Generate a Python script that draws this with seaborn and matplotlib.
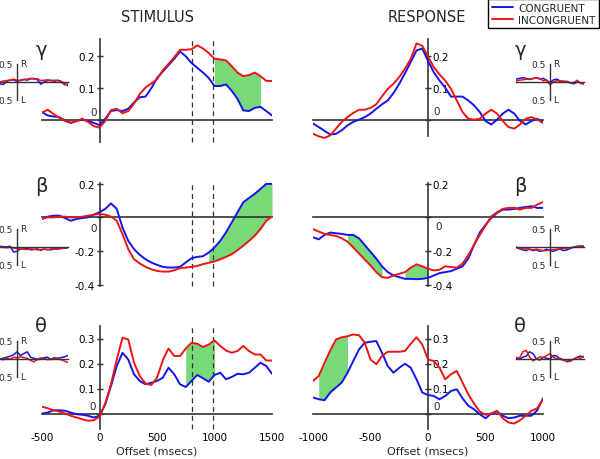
"""
Stimulus- and response-locked band power (gamma, beta, theta),
congruent vs incongruent trials, with small lateralisation insets.
"""

import numpy as np
import matplotlib
matplotlib.use("Agg")
import matplotlib.pyplot as plt
import seaborn as sns
from matplotlib.lines import Line2D

sns.set_theme(style="white")
plt.rcParams["font.family"] = ["DejaVu Sans"]
plt.rcParams["axes.unicode_minus"] = False

BLUE = "#1414ee"
RED = "#ee1414"
GREEN = "#78d978"
AXC = "#333333"
W, H = 600, 460

# ============================================================
# DATA
# ============================================================
t_stim = np.arange(-500, 1501, 50)
t_resp = np.arange(-1000, 1001, 50)
t_stim_in = np.arange(-500, 1501, 100)
t_resp_in = np.arange(-1000, 1001, 100)

stim_xticks = [-500, 0, 500, 1000, 1500]
resp_xticks = [-1000, -500, 0, 500, 1000]
stim_dashed = [800, 985]

# gamma
gamma_stim_blue = [0.024, 0.013, 0.01, 0.008, -0.002, -0.01, -0.004, 0.0, -0.004, -0.01, -0.017,
                   0.003, 0.027, 0.03, 0.027, 0.034, 0.054, 0.07, 0.072, 0.098, 0.13,
                   0.15, 0.17, 0.19, 0.213, 0.198, 0.177, 0.162, 0.147, 0.13, 0.105,
                   0.105, 0.11, 0.09, 0.065, 0.029, 0.027, 0.037, 0.04, 0.027, 0.013]
gamma_stim_red = [0.022, 0.031, 0.018, 0.006, -0.004, -0.01, -0.004, 0.003, -0.007, -0.02, -0.025,
                  -0.004, 0.03, 0.034, 0.02, 0.027, 0.05, 0.08, 0.1, 0.113, 0.126,
                  0.154, 0.174, 0.195, 0.218, 0.218, 0.22, 0.232, 0.222, 0.208, 0.19,
                  0.188, 0.185, 0.167, 0.147, 0.136, 0.139, 0.147, 0.136, 0.121, 0.121]
gamma_resp_blue = [-0.012, -0.023, -0.035, -0.046, -0.044, -0.033, -0.018, -0.007, 0.0, 0.008,
                   0.019, 0.034, 0.048, 0.06, 0.083, 0.112, 0.145, 0.18, 0.216, 0.222,
                   0.184, 0.148, 0.122, 0.1, 0.072, 0.072, 0.072, 0.06, 0.045, 0.024,
                   -0.004, -0.015, 0.0, 0.019, 0.031, 0.019, -0.004, -0.015, -0.004, 0.003, -0.007]
gamma_resp_red = [-0.044, -0.052, -0.057, -0.049, -0.028, -0.007, 0.008, 0.021, 0.031, 0.031,
                  0.037, 0.048, 0.073, 0.096, 0.112, 0.133, 0.159, 0.19, 0.238, 0.231,
                  0.197, 0.164, 0.141, 0.122, 0.096, 0.06, 0.024, 0.003, 0.0, 0.003,
                  0.019, 0.031, 0.019, -0.004, -0.023, -0.028, -0.015, 0.003, 0.008, 0.0, -0.01]

# beta
beta_stim_blue = [-0.01, 0.004, 0.01, 0.01, -0.004, -0.02, -0.01, -0.004, 0.0, 0.016, 0.03,
                  0.05, 0.083, 0.05, -0.06, -0.139, -0.188, -0.222, -0.248, -0.267, -0.281,
                  -0.293, -0.297, -0.297, -0.293, -0.267, -0.242, -0.234, -0.23, -0.208, -0.178,
                  -0.139, -0.089, -0.03, 0.03, 0.089, 0.115, 0.139, 0.168, 0.198, 0.198]
beta_stim_red = [-0.004, 0.0, 0.0, 0.004, 0.004, 0.0, 0.0, 0.004, 0.01, 0.016, 0.02,
                 0.016, 0.004, -0.02, -0.099, -0.188, -0.248, -0.273, -0.293, -0.307, -0.317,
                 -0.321, -0.321, -0.313, -0.301, -0.297, -0.293, -0.287, -0.277, -0.269, -0.261,
                 -0.248, -0.234, -0.218, -0.194, -0.168, -0.139, -0.109, -0.069, -0.02, 0.004]
beta_resp_blue = [-0.118, -0.13, -0.104, -0.09, -0.094, -0.098, -0.104, -0.104, -0.124, -0.164,
                  -0.204, -0.244, -0.29, -0.324, -0.344, -0.354, -0.364, -0.364, -0.366, -0.364,
                  -0.358, -0.344, -0.33, -0.324, -0.318, -0.304, -0.29, -0.244, -0.164, -0.09,
                  -0.044, -0.004, 0.026, 0.046, 0.046, 0.05, 0.056, 0.062, 0.066, 0.056, 0.056]
beta_resp_red = [-0.07, -0.084, -0.098, -0.104, -0.11, -0.124, -0.144, -0.178, -0.214, -0.25,
                 -0.284, -0.324, -0.354, -0.358, -0.344, -0.334, -0.324, -0.298, -0.278, -0.29,
                 -0.304, -0.314, -0.31, -0.29, -0.294, -0.298, -0.274, -0.224, -0.164, -0.104,
                 -0.05, 0.006, 0.03, 0.05, 0.056, 0.056, 0.046, 0.056, 0.056, 0.076, 0.09]

# theta
theta_stim_blue = [0.0, 0.004, 0.013, 0.013, 0.011, 0.004, -0.003, -0.005, -0.009, -0.016, -0.009,
                   0.037, 0.11, 0.19, 0.243, 0.216, 0.157, 0.13, 0.117, 0.123, 0.13,
                   0.143, 0.183, 0.157, 0.117, 0.106, 0.13, 0.154, 0.141, 0.127, 0.154,
                   0.163, 0.137, 0.146, 0.159, 0.157, 0.163, 0.183, 0.203, 0.19, 0.159]
theta_stim_red = [0.027, 0.021, 0.013, 0.008, 0.0, -0.009, -0.016, -0.023, -0.029, -0.027, -0.013,
                  0.04, 0.117, 0.216, 0.303, 0.296, 0.203, 0.15, 0.12, 0.114, 0.143,
                  0.212, 0.26, 0.23, 0.23, 0.26, 0.283, 0.279, 0.266, 0.276, 0.292,
                  0.27, 0.252, 0.243, 0.25, 0.27, 0.25, 0.236, 0.236, 0.212, 0.212]
theta_resp_blue = [0.064, 0.057, 0.053, 0.084, 0.104, 0.124, 0.163, 0.21, 0.256, 0.283,
                   0.287, 0.29, 0.243, 0.19, 0.163, 0.183, 0.199, 0.183, 0.137, 0.084,
                   0.074, 0.07, 0.057, 0.07, 0.09, 0.097, 0.061, 0.031, 0.017, -0.003,
                   -0.019, 0.0, 0.008, -0.009, -0.019, -0.016, -0.009, -0.009, -0.009, 0.013, 0.061]
theta_resp_red = [0.13, 0.15, 0.203, 0.252, 0.296, 0.305, 0.309, 0.316, 0.313, 0.283,
                  0.216, 0.197, 0.23, 0.247, 0.247, 0.247, 0.25, 0.279, 0.305, 0.276,
                  0.216, 0.21, 0.183, 0.137, 0.157, 0.17, 0.124, 0.077, 0.04, 0.008,
                  -0.005, 0.0, 0.011, -0.019, -0.036, -0.04, -0.027, -0.009, 0.011, 0.021, 0.057]

# lateralisation insets (R > 0, L < 0)
gamma_stim_in_blue = [-0.05, -0.07, 0.02, 0.05, 0.06, 0.02, 0.05, 0.07, 0.05, 0.09, 0.1,
                      0.06, -0.06, 0.0, 0.04, 0.05, 0.02, 0.05, 0.02, -0.05, -0.1]
gamma_stim_in_red = [0.0, 0.03, 0.04, 0.06, 0.08, 0.05, 0.04, 0.07, 0.08, 0.1, 0.08,
                     0.09, 0.04, 0.05, 0.06, 0.03, 0.05, 0.04, 0.0, -0.08, -0.05]
gamma_resp_in_blue = [0.08, 0.1, 0.12, 0.1, 0.08, 0.1, 0.12, 0.08, 0.1, 0.05, -0.02,
                      0.06, 0.08, 0.03, 0.0, 0.02, -0.03, -0.05, 0.0, -0.02, -0.04]
gamma_resp_in_red = [0.03, 0.05, 0.06, 0.08, 0.07, 0.09, 0.12, 0.1, 0.03, 0.05, -0.08,
                     0.0, 0.04, 0.02, 0.03, 0.0, -0.02, -0.02, 0.05, -0.04, -0.06]
beta_stim_in_blue = [0.02, 0.01, 0.0, 0.02, -0.14, -0.12, -0.05, -0.06, -0.04, -0.08, -0.07,
                     -0.05, -0.09, -0.06, -0.07, -0.08, -0.05, -0.06, -0.04, -0.03, -0.02]
beta_stim_in_red = [0.0, -0.01, -0.02, -0.01, -0.03, -0.04, -0.05, -0.06, -0.07, -0.05, -0.06,
                    -0.08, -0.07, -0.06, -0.08, -0.05, -0.06, -0.05, -0.04, -0.03, -0.02]
beta_resp_in_blue = [0.0, -0.05, -0.08, -0.1, -0.06, -0.1, -0.08, -0.12, -0.1, -0.06, -0.1,
                     -0.12, -0.08, -0.06, -0.1, -0.08, -0.04, 0.0, 0.02, 0.03, 0.02]
beta_resp_in_red = [-0.02, -0.03, -0.05, -0.05, -0.06, -0.08, -0.06, -0.08, -0.1, -0.1, -0.08,
                    -0.07, -0.06, -0.05, -0.04, -0.03, -0.02, -0.01, 0.0, 0.01, 0.03]
theta_stim_in_blue = [0.0, 0.02, 0.05, 0.08, 0.12, 0.2, 0.1, 0.15, 0.2, 0.05, 0.02,
                      -0.02, 0.0, 0.04, 0.05, -0.02, 0.03, 0.02, 0.04, 0.06, 0.1]
theta_stim_in_red = [0.0, -0.02, 0.02, 0.0, 0.05, 0.03, 0.06, 0.04, 0.02, -0.04, -0.08,
                     0.0, 0.03, 0.02, -0.02, 0.0, 0.04, 0.0, -0.02, -0.06, -0.1]
theta_resp_in_blue = [0.02, 0.0, 0.05, 0.08, 0.2, 0.15, 0.0, -0.03, 0.05, 0.02, 0.0,
                      0.1, 0.08, 0.0, -0.04, -0.02, -0.06, 0.0, 0.05, 0.08, 0.05]
theta_resp_in_red = [0.05, 0.02, 0.2, 0.24, 0.05, -0.05, 0.0, 0.06, 0.04, 0.1, 0.15,
                     0.05, 0.0, 0.02, -0.03, -0.08, -0.06, 0.0, 0.04, 0.02, 0.08]

# significant windows (ms)
gamma_stim_sig = [(1000, 1400)]
beta_stim_sig = [(950, 1500)]
beta_resp_sig = [(-700, -400), (-200, 0)]
theta_stim_sig = [(750, 1000)]
theta_resp_sig = [(-950, -700)]

# ============================================================
# FIGURE
# ============================================================
fig = plt.figure(figsize=(6, 4.6), dpi=100)


def px_axes(left, top, width, height):
    ax = fig.add_axes([left / W, 1 - (top + height) / H, width / W, height / H])
    ax.patch.set_visible(False)
    return ax


def draw_main(ax, t, blue, red, xticks, ylim, yticks, ybounds, sig, side,
              bottom_row, zero_off, dashed=None):
    t = np.asarray(t)
    for a, b in sig:
        ax.fill_between(t, blue, red, where=(t >= a) & (t <= b), color=GREEN,
                        lw=0, zorder=1)
    sns.lineplot(x=t, y=blue, color=BLUE, lw=1.4, ax=ax, zorder=3)
    sns.lineplot(x=t, y=red, color=RED, lw=1.4, ax=ax, zorder=3)
    if dashed:
        ax.vlines(dashed, ybounds[0], ybounds[1], colors=AXC, lw=0.9,
                  linestyles=(0, (4, 3)), zorder=2)
    ax.set_xlim(t[0], t[-1])
    ax.set_ylim(*ylim)
    ax.set_xlabel("")
    ax.set_ylabel("")

    other = "left" if side == "right" else "right"
    ax.spines["top"].set_visible(False)
    ax.spines[other].set_visible(False)
    ax.spines[side].set_position(("data", 0))
    ax.spines[side].set_bounds(*ybounds)
    ax.spines["bottom"].set_position(("data", 0))
    for s in [side, "bottom"]:
        ax.spines[s].set_color(AXC)
        ax.spines[s].set_linewidth(1.2)
    if side == "right":
        ax.yaxis.tick_right()
    else:
        ax.yaxis.tick_left()

    ax.set_xticks(xticks)
    ax.set_yticks(yticks)
    ax.set_yticklabels(["" if v == 0 else f"{v:g}" for v in yticks])
    ax.tick_params(axis="both", which="both", direction="inout", length=5, width=1,
                   color=AXC, labelsize=7.5, labelcolor="black")
    ax.tick_params(axis="y", pad=1)
    if bottom_row:
        ax.set_xticklabels([f"{v:g}" for v in xticks])
        ax.tick_params(axis="x", pad=11)
        ax.set_xlabel("Offset (msecs)", fontsize=8, labelpad=2)
    else:
        ax.tick_params(axis="x", labelbottom=False)

    dx, dy = zero_off
    ax.annotate("0", xy=(0, 0), xytext=(dx, dy), textcoords="offset pixels",
                ha="right" if side == "left" else "left",
                va="bottom" if dy > 0 else "top", fontsize=7.5)


def draw_inset(ax, t, blue, red):
    sns.lineplot(x=t, y=blue, color=BLUE, lw=1.1, ax=ax)
    sns.lineplot(x=t, y=red, color=RED, lw=1.1, ax=ax)
    ax.set_xlim(t[0], t[-1])
    ax.set_ylim(-0.6, 0.6)
    ax.set_xlabel("")
    ax.set_ylabel("")
    ax.spines["top"].set_visible(False)
    ax.spines["right"].set_visible(False)
    ax.spines["left"].set_position(("data", 0))
    ax.spines["bottom"].set_position(("data", 0))
    ax.spines["left"].set_bounds(-0.5, 0.5)
    for s in ["left", "bottom"]:
        ax.spines[s].set_color(AXC)
        ax.spines[s].set_linewidth(1.0)
    ax.set_xticks([])
    ax.set_yticks([-0.5, 0.5])
    ax.set_yticklabels(["0.5", "0.5"])
    ax.tick_params(axis="y", direction="inout", length=4, width=0.8, color=AXC,
                   labelsize=6.5, pad=1)
    ax.annotate("R", xy=(0, 0.5), xytext=(3, 0), textcoords="offset pixels",
                ha="left", va="center", fontsize=6.5)
    ax.annotate("L", xy=(0, -0.5), xytext=(3, 0), textcoords="offset pixels",
                ha="left", va="center", fontsize=6.5)


rows = [
    dict(top=38, h=108, ylim=(-0.079, 0.258), yticks=[0, 0.1, 0.2],
         sb=(-0.07, 0.252), rb=(-0.05, 0.252), greek="γ", gy=50, inset_zero=83,
         stim=(gamma_stim_blue, gamma_stim_red, gamma_stim_sig),
         resp=(gamma_resp_blue, gamma_resp_red, []),
         sin=(gamma_stim_in_blue, gamma_stim_in_red),
         rin=(gamma_resp_in_blue, gamma_resp_in_red),
         z_stim=(-3, 3), z_resp=(5, 4)),
    dict(top=180, h=110, ylim=(-0.424, 0.227), yticks=[-0.4, -0.2, 0, 0.2],
         sb=(-0.405, 0.205), rb=(-0.405, 0.205), greek="β", gy=187, inset_zero=248,
         stim=(beta_stim_blue, beta_stim_red, beta_stim_sig),
         resp=(beta_resp_blue, beta_resp_red, beta_resp_sig),
         sin=(beta_stim_in_blue, beta_stim_in_red),
         rin=(beta_resp_in_blue, beta_resp_in_red),
         z_stim=(-3, -6), z_resp=(7, -4)),
    dict(top=322, h=110, ylim=(-0.07, 0.37), yticks=[0, 0.1, 0.2, 0.3],
         sb=(-0.06, 0.35), rb=(-0.06, 0.35), greek="θ", gy=327, inset_zero=360,
         stim=(theta_stim_blue, theta_stim_red, theta_stim_sig),
         resp=(theta_resp_blue, theta_resp_red, theta_resp_sig),
         sin=(theta_stim_in_blue, theta_stim_in_red),
         rin=(theta_resp_in_blue, theta_resp_in_red),
         z_stim=(-4, 2), z_resp=(5, 2)),
]

for i, r in enumerate(rows):
    bottom_row = i == len(rows) - 1
    ax_s = px_axes(42, r["top"], 230, r["h"])
    b, rd, sig = r["stim"]
    draw_main(ax_s, t_stim, b, rd, stim_xticks, r["ylim"], r["yticks"], r["sb"], sig,
              "left", bottom_row, r["z_stim"], dashed=stim_dashed)
    ax_r = px_axes(313, r["top"], 230, r["h"])
    b, rd, sig = r["resp"]
    draw_main(ax_r, t_resp, b, rd, resp_xticks, r["ylim"], r["yticks"], r["rb"], sig,
              "right", bottom_row, r["z_resp"])

    ih = 43.2
    ax_si = px_axes(0, r["inset_zero"] - ih / 2, 68, ih)
    draw_inset(ax_si, t_stim_in, *r["sin"])
    ax_ri = px_axes(516, r["inset_zero"] - ih / 2, 68, ih)
    draw_inset(ax_ri, t_resp_in, *r["rin"])

    fig.text(41 / W, 1 - r["gy"] / H, r["greek"], fontsize=14, ha="center", va="center")
    fig.text(520 / W, 1 - r["gy"] / H, r["greek"], fontsize=14, ha="center", va="center")

fig.text(157 / W, 1 - 17 / H, "STIMULUS", fontsize=10.5, ha="center", va="center")
fig.text(427 / W, 1 - 17 / H, "RESPONSE", fontsize=10.5, ha="center", va="center")

handles = [Line2D([], [], color=BLUE, lw=1.4, label="CONGRUENT"),
           Line2D([], [], color=RED, lw=1.4, label="INCONGRUENT")]
leg = fig.legend(handles=handles, loc="upper right", bbox_to_anchor=(599 / W, 1.0),
                 fontsize=7.5, frameon=True, fancybox=False, framealpha=1,
                 edgecolor="black", borderpad=0.35, handlelength=2.0,
                 handletextpad=0.5, labelspacing=0.2, borderaxespad=0)
leg.get_frame().set_linewidth(1.0)

fig.savefig("out.png", dpi=100)
